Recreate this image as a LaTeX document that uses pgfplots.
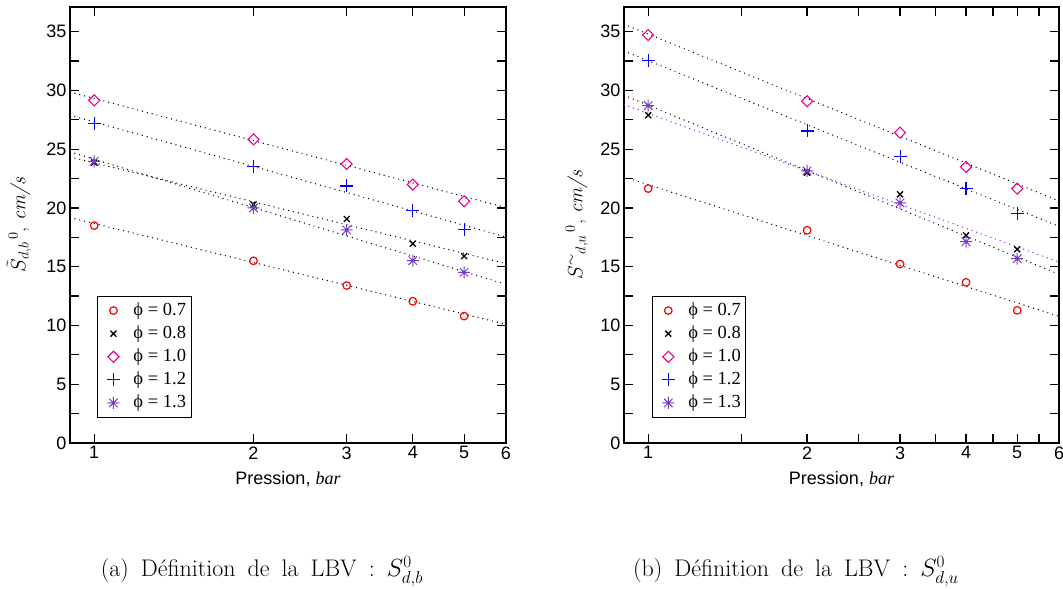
\documentclass[border=0pt]{standalone}
\usepackage{pgfplots}
\pgfplotsset{compat=1.18}
\usepackage{fontspec}
\newfontfamily\sansf{Liberation Sans}
\newfontfamily\seriff{Liberation Serif}
\definecolor{starcol}{RGB}{120,60,200}
\definecolor{linepurple}{RGB}{160,32,240}
\definecolor{plusblue}{RGB}{0,0,255}
\pgfdeclareplotmark{plusx}{%
  \pgfpathmoveto{\pgfqpoint{-\pgfplotmarksize}{0pt}}\pgfpathlineto{\pgfqpoint{\pgfplotmarksize}{0pt}}%
  \pgfpathmoveto{\pgfqpoint{0pt}{-\pgfplotmarksize}}\pgfpathlineto{\pgfqpoint{0pt}{\pgfplotmarksize}}%
  \pgfpathmoveto{\pgfqpoint{-.707\pgfplotmarksize}{-.707\pgfplotmarksize}}\pgfpathlineto{\pgfqpoint{.707\pgfplotmarksize}{.707\pgfplotmarksize}}%
  \pgfpathmoveto{\pgfqpoint{-.707\pgfplotmarksize}{.707\pgfplotmarksize}}\pgfpathlineto{\pgfqpoint{.707\pgfplotmarksize}{-.707\pgfplotmarksize}}%
  \pgfusepathqstroke}
\pgfdeclareplotmark{myplus}{%
  \pgfsetstrokecolor{plusblue}%
  \pgfpathmoveto{\pgfqpoint{-\pgfplotmarksize}{0pt}}\pgfpathlineto{\pgfqpoint{\pgfplotmarksize}{0pt}}%
  \pgfpathmoveto{\pgfqpoint{0pt}{-\pgfplotmarksize}}\pgfpathlineto{\pgfqpoint{0pt}{\pgfplotmarksize}}%
  \pgfusepathqstroke}
\pgfplotsset{
  myaxis/.style={
    scale only axis, width=436pt, height=436pt,
    xmin=0.9, xmax=6, ymin=0, ymax=37.1,
    xtick={1,2,3,4,5,6}, xticklabels={1,2,3,4,5,6},
    ytick={0,5,...,35}, minor ytick={2.5,7.5,...,35},
    tick align=inside, major tick length=9pt, minor tick length=9pt,
    every tick/.style={black, line width=1.2pt},
    axis line style={line width=1.6pt},
    tick label style={font=\sansf\fontsize{18}{18}\selectfont},
    /pgf/number format/assume math mode=true,
    xlabel={\sansf Pression, {\seriff\itshape bar}},
    xlabel style={at={(axis description cs:0.5,-0.082)}, anchor=center, font=\fontsize{18}{18}\selectfont},
    legend style={font=\seriff\fontsize{18.5}{18.5}\selectfont, draw=black, line width=0.9pt,
      anchor=north west, row sep=0pt, inner xsep=3pt, inner ysep=2.5pt, cells={anchor=west},
      nodes={text height=13.3pt, text depth=3.8pt, inner xsep=2pt, inner ysep=3pt}},
    legend image code/.code={\path[draw=none,fill=none] (0pt,0pt) -- (31pt,0pt); \draw[##1, only marks] plot coordinates {(13pt,0pt)};},
    legend cell align=left,
    clip=true,
  },
  fitline/.style={black, line width=1.4pt, line cap=round, dash pattern=on 0pt off 5pt, forget plot},
  s07/.style={only marks, mark=o, color=red, mark size=3.8pt, line width=1.2pt},
  s08/.style={only marks, mark=x, color=black, mark size=4.2pt, line width=1.3pt},
  s10/.style={only marks, mark=square, color=magenta, mark size=3.9pt, line width=1.1pt, mark options={rotate=45}},
  s12/.style={only marks, mark=myplus, color=plusblue, mark size=6.5pt, line width=1.1pt},
  s13/.style={only marks, mark=plusx, color=starcol, mark size=6pt, line width=1pt},
}
\begin{document}
\begin{tikzpicture}
\useasboundingbox (0,0) rectangle (1063pt,589pt);
% ---------- (a)
\begin{semilogxaxis}[myaxis, at={(70pt,146pt)}, anchor=south west,
  ylabel={$\tilde{S}_{d,b}{}^{\,0}$, \textit{cm/s}},
  ylabel style={at={(axis description cs:-0.117,0.5)}, anchor=center, font=\fontsize{20}{20}\selectfont},
  legend style={at={(axis description cs:0.062,0.337)}}]
\addplot[fitline] coordinates {(0.9,19.18) (6,10.10)};
\addplot[fitline] coordinates {(0.9,24.34) (6,15.26)};
\addplot[fitline] coordinates {(0.9,29.87) (6,20.03)};
\addplot[fitline] coordinates {(0.9,27.89) (6,17.53)};
\addplot[fitline] coordinates {(0.9,24.77) (6,13.50)};
\addplot[s07] coordinates {(1,18.5) (2,15.5) (3,13.4) (4,12.06) (5,10.8)};
\addlegendentry{ϕ = 0.7}
\addplot[s08] coordinates {(1,23.86) (2,20.3) (3,19.06) (4,16.96) (5,15.9)};
\addlegendentry{ϕ = 0.8}
\addplot[s10] coordinates {(1,29.16) (2,25.84) (3,23.74) (4,21.99) (5,20.57)};
\addlegendentry{ϕ = 1.0}
\addplot[s12] coordinates {(1,27.18) (2,23.49) (3,21.87) (4,19.8) (5,18.16)};
\addlegendentry{ϕ = 1.2}
\addplot[s13] coordinates {(1,23.97) (2,20.0) (3,18.13) (4,15.52) (5,14.52)};
\addlegendentry{ϕ = 1.3}
\end{semilogxaxis}
% ---------- (b)
\begin{semilogxaxis}[myaxis, at={(624pt,146pt)}, anchor=south west, width=435pt,
  minor xtick={1.5,2.5,3.5,4.5,5.5},
  ylabel={$S^{\sim}{}_{d,u}{}^{\,0}$, \textit{cm/s}},
  ylabel style={at={(axis description cs:-0.108,0.5)}, anchor=center, font=\fontsize{20}{20}\selectfont},
  legend style={at={(axis description cs:0.064,0.337)}}]
\addplot[fitline] coordinates {(0.9,22.64) (6,10.78)};
\addplot[fitline] coordinates {(0.9,29.59) (6,14.35)};
\addplot[fitline] coordinates {(0.9,35.63) (6,20.60)};
\addplot[fitline] coordinates {(0.9,33.36) (6,18.44)};
\addplot[fitline, linepurple] coordinates {(0.9,28.79) (6,15.40)};
\addplot[s07] coordinates {(1,21.65) (2,18.1) (3,15.23) (4,13.67) (5,11.29)};
\addlegendentry{ϕ = 0.7}
\addplot[s08] coordinates {(1,27.89) (2,23.0) (3,21.16) (4,17.67) (5,16.48)};
\addlegendentry{ϕ = 0.8}
\addplot[s10] coordinates {(1,34.72) (2,29.08) (3,26.41) (4,23.49) (5,21.65)};
\addlegendentry{ϕ = 1.0}
\addplot[s12] coordinates {(1,32.57) (2,26.55) (3,24.37) (4,21.65) (5,19.52)};
\addlegendentry{ϕ = 1.2}
\addplot[s13] coordinates {(1,28.71) (2,23.15) (3,20.43) (4,17.13) (5,15.69)};
\addlegendentry{ϕ = 1.3}
\end{semilogxaxis}
\node[anchor=base, font=\fontsize{24}{24}\selectfont] at (262pt,12pt) {\spaceskip=12pt plus 2pt (a) Définition de la LBV : $S^0_{d,b}$};
\node[anchor=base, font=\fontsize{24}{24}\selectfont] at (796pt,12pt) {\spaceskip=12pt plus 2pt (b) Définition de la LBV : $S^0_{d,u}$};
\end{tikzpicture}
\end{document}
